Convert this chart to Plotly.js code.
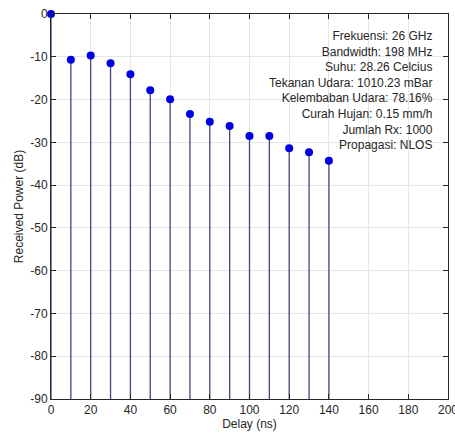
<!DOCTYPE html>
<html><head><meta charset="utf-8">
<script src="https://cdn.plot.ly/plotly-3.0.1.min.js"></script>
<style>html,body{margin:0;padding:0;background:#fff;}#chart{width:455px;height:433px;}</style>
</head><body><div id="chart"></div>
<script>
const delays = [0,10,20,30,40,50,60,70,80,90,100,110,120,130,140];
const power = [0,-10.7,-9.7,-11.5,-14.1,-17.8,-19.9,-23.4,-25.2,-26.2,-28.5,-28.5,-31.4,-32.3,-34.3];
const baseValue = -90;
const infoLines = ["Frekuensi: 26 GHz","Bandwidth: 198 MHz","Suhu: 28.26 Celcius","Tekanan Udara: 1010.23 mBar","Kelembaban Udara: 78.16%","Curah Hujan: 0.15 mm/h","Jumlah Rx: 1000","Propagasi: NLOS"];
const xTicks = [0,20,40,60,80,100,120,140,160,180,200];
const yTicks = [-90,-80,-70,-60,-50,-40,-30,-20,-10,0];

const sx = [], sy = [];
delays.forEach((d,i)=>{ sx.push(d,d,null); sy.push(baseValue,power[i],null); });

const font = {family:'"Liberation Sans", Arial, sans-serif', size:12, color:'#262626'};
const data = [
  {x:sx, y:sy, mode:'lines', type:'scatter', line:{color:'#45487a', width:1.3}, hoverinfo:'skip', showlegend:false},
  {x:delays, y:power, mode:'markers', type:'scatter', cliponaxis:false, marker:{color:'#0000e6', size:8}, showlegend:false}
];
const axisCommon = {showline:true, mirror:'ticks', linecolor:'#262626', linewidth:1, ticks:'inside', ticklen:5, tickcolor:'#262626', showgrid:true, gridcolor:'#e6e6e6', gridwidth:1, zeroline:false, tickfont:font, ticklabeloverflow:'allow'};
const layout = {
  width:455, height:433, margin:{l:51, r:7, t:14, b:34},
  paper_bgcolor:'#fff', plot_bgcolor:'#fff', font:font,
  xaxis:Object.assign({}, axisCommon, {range:[0,200], tickvals:xTicks, ticktext:xTicks.map(String), title:{text:'Delay (ns)', font:font, standoff:2}}),
  yaxis:Object.assign({}, axisCommon, {range:[-90,0], tickvals:yTicks, ticktext:yTicks.map(String), title:{text:'Received Power (dB)', font:font, standoff:4}}),
  annotations:[{xref:'paper', yref:'paper', x:0.967, y:0.967, xanchor:'right', yanchor:'top', align:'right', showarrow:false, text:infoLines.join('<br>'), font:font}]
};
Plotly.newPlot('chart', data, layout, {displayModeBar:false, staticPlot:true});
</script></body></html>
